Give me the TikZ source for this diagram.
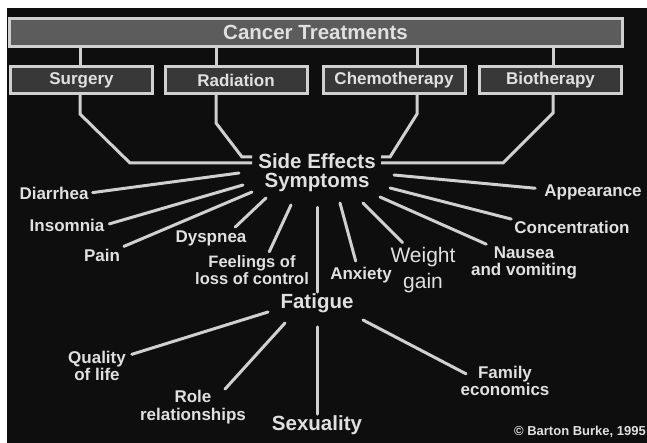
\documentclass[tikz,border=0pt]{standalone}
\usepackage{fontspec}
\setmainfont{Liberation Sans}
\usetikzlibrary{positioning}
\definecolor{SlideBlack}{RGB}{14, 14, 14}
\definecolor{LineGray}{RGB}{208, 208, 208}
\definecolor{HeadGray}{RGB}{92, 92, 92}
\definecolor{BoxGray}{RGB}{56, 56, 56}
\definecolor{TextGray}{RGB}{224, 224, 224}

\begin{document}
\begin{tikzpicture}[x=1pt, y=-1pt,
    headbox/.style={rectangle, draw=LineGray, fill=HeadGray, line width=3pt, minimum width=613pt, minimum height=28pt, inner sep=0pt, text=TextGray, font=\fontsize{20.5}{20}\selectfont\bfseries},
    treatbox/.style={rectangle, draw=LineGray, fill=BoxGray, line width=3pt, minimum width=142pt, minimum height=27pt, inner sep=0pt, text=TextGray, font=\fontsize{17}{17}\selectfont\bfseries},
    hublabel/.style={text=TextGray, inner sep=1pt, align=center, font=\fontsize{20.5}{21}\selectfont\bfseries},
    symlabel/.style={text=TextGray, inner sep=1pt, align=center, font=\fontsize{17}{17.5}\selectfont\bfseries},
    link/.style={draw=LineGray, line width=3pt},
    spoke/.style={draw=LineGray, line width=3pt, line cap=round}
]
\useasboundingbox (0,0) rectangle (647,443);
\fill[white] (0,0) rectangle (647,443);
\fill[SlideBlack] (7,8) rectangle (647,443);

% Treatments
\node[headbox] (treat) at (315.5,32.5) {Cancer Treatments};
\node[treatbox] (surgery) at (81.5,80) {Surgery};
\node[treatbox] (radiation) at (236,80) {Radiation};
\node[treatbox] (chemo) at (394,80) {Chemotherapy};
\node[treatbox] (bio) at (550.5,80) {Biotherapy};

\draw[link] (treat.south -| 80,0) -- (surgery.north -| 80,0);
\draw[link] (treat.south -| 216,0) -- (radiation.north -| 216,0);
\draw[link] (treat.south -| 417,0) -- (chemo.north -| 417,0);
\draw[link] (treat.south -| 553,0) -- (bio.north -| 553,0);

% Hub
\node[hublabel] (sideeff) at (317,161) {Side Effects};
\node[hublabel] (symptoms) at (317,182) {Symptoms};
\coordinate (sL1) at (252,157);
\coordinate (sL2) at (252,163);
\coordinate (sR1) at (381,157);
\coordinate (sR2) at (381,163);

\draw[link] (surgery.south -| 80,0) -- (80,114) -- (130,163) -- (sL2);
\draw[link] (radiation.south -| 216,0) -- (216,123) -- (242,157) -- (sL1);
\draw[link] (chemo.south -| 417,0) -- (417,114) -- (390,157) -- (sR1);
\draw[link] (bio.south -| 553,0) -- (553,113) -- (503,163) -- (sR2);

% Symptoms
\node[symlabel] (diarrhea) at (54,193) {Diarrhea};
\node[symlabel] (insomnia) at (67,225) {Insomnia};
\node[symlabel] (pain) at (102,255) {Pain};
\node[symlabel] (dyspnea) at (211,238) {Dyspnea};
\node[symlabel, font=\fontsize{16.5}{14.5}\selectfont\bfseries] (feelings) at (252,270) {Feelings of\\loss of control};
\node[symlabel] (anxiety) at (361,275) {Anxiety};
\node[symlabel, font=\fontsize{21}{26}\selectfont] (weight) at (423,270) {Weight\\gain};
\node[symlabel] (nausea) at (524,263) {Nausea\\and vomiting};
\node[symlabel] (concentration) at (572,227) {Concentration};
\node[symlabel] (appearance) at (593,192) {Appearance};

\coordinate (hDia) at (239,173);
\coordinate (hIns) at (243,185);
\coordinate (hPain) at (252,192);
\coordinate (hDys) at (266,198);
\coordinate (hFeel) at (291,205);
\coordinate (hAnx) at (340,203);
\coordinate (hWgt) at (363,203);
\coordinate (hNau) at (380,197);
\coordinate (hCon) at (390,188);
\coordinate (hApp) at (394,175);

\draw[spoke, shorten <=3pt] (diarrhea.east) -- (hDia);
\draw[spoke, shorten <=4pt] (insomnia.east) -- (hIns);
\draw[spoke, shorten <=3pt] (pain.north east) -- (hPain);
\draw[spoke, shorten <=3pt] ([xshift=22pt]dyspnea.north) -- (hDys);
\draw[spoke, shorten <=3pt] ([xshift=16pt]feelings.north) -- (hFeel);
\draw[spoke, shorten <=5pt] ([xshift=-4pt]anxiety.north) -- (hAnx);
\draw[spoke, shorten <=5pt] ([xshift=-17pt]weight.north) -- (hWgt);
\draw[spoke, shorten <=3pt] ([xshift=-35pt]nausea.north) -- (hNau);
\draw[spoke, shorten <=2pt] (concentration.north west) -- (hCon);
\draw[spoke, shorten <=8pt] ([yshift=3pt]appearance.west) -- (hApp);

% Fatigue
\node[hublabel] (fatigue) at (317,303) {Fatigue};
\node[symlabel] (quality) at (97,366) {Quality\\of life};
\node[symlabel] (role) at (193,407) {Role\\relationships};
\node[hublabel] (sexuality) at (317,425) {Sexuality};
\node[symlabel] (family) at (505,381) {Family\\economics};

\coordinate (fQual) at (268,312);
\coordinate (fRole) at (285,323);
\coordinate (fFam) at (363,320);

\draw[spoke, shorten <=15pt] (symptoms.south) -- (fatigue.north);
\draw[spoke, shorten <=5pt] ([yshift=-6pt]quality.north east) -- (fQual);
\draw[spoke] ([xshift=32pt]role.north) -- (fRole);
\draw[spoke, shorten >=13pt] (sexuality.north) -- (fatigue.south);
\draw[spoke] ([xshift=-39pt, yshift=-9pt]family.north) -- (fFam);

\node[text=TextGray, anchor=east, inner sep=0pt, font=\fontsize{13}{13}\selectfont\bfseries] (credit) at (646,432) {\textcopyright\ Barton Burke, 1995};

\end{tikzpicture}
\end{document}
